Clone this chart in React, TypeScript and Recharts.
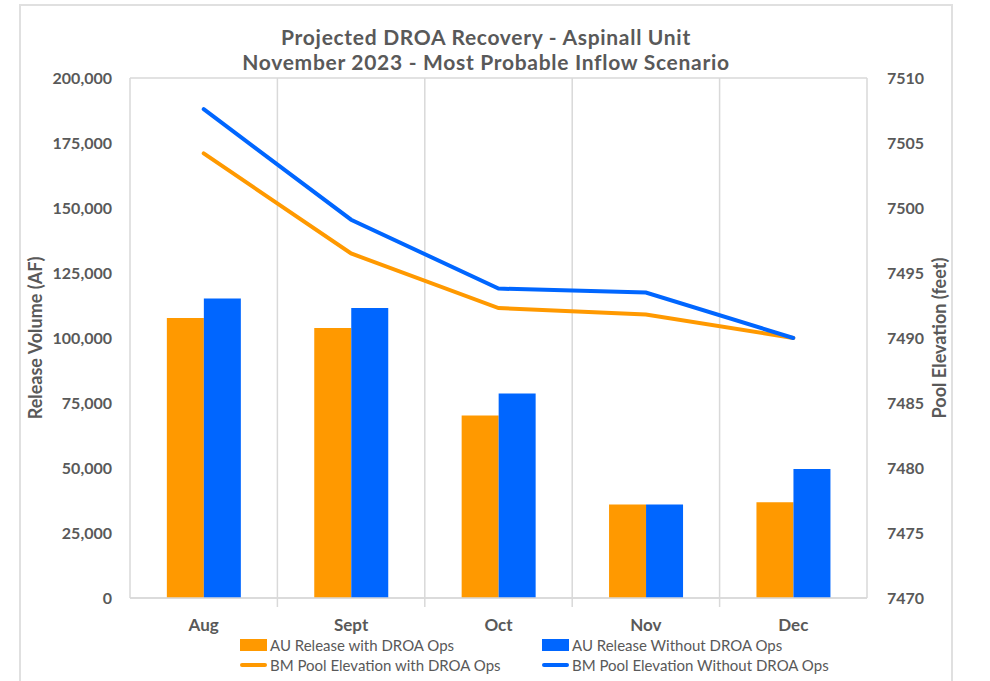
import { ComposedChart, Bar, Line, XAxis, YAxis, CartesianGrid } from 'recharts'

const months = ['Aug', 'Sept', 'Oct', 'Nov', 'Dec']
const releaseWithDroa = [107700, 103800, 70200, 36000, 36800]
const releaseWithoutDroa = [115200, 111500, 78700, 36000, 49600]
const elevWithDroa = [7504.2, 7496.5, 7492.3, 7491.8, 7490.0]
const elevWithoutDroa = [7507.6, 7499.1, 7493.8, 7493.5, 7490.0]
const leftTicks = [0, 25000, 50000, 75000, 100000, 125000, 150000, 175000, 200000]
const rightTicks = [7470, 7475, 7480, 7485, 7490, 7495, 7500, 7505, 7510]

const data = months.map((m, i) => ({
  month: m,
  auWith: releaseWithDroa[i],
  auWithout: releaseWithoutDroa[i],
  bmWith: elevWithDroa[i],
  bmWithout: elevWithoutDroa[i],
}))

const ORANGE = '#FF9900'
const BLUE = '#0066FF'
const GREY = '#595959'
const GRID = '#d9d9d9'
const FONT = 'Lato, "Open Sans", sans-serif'

const legendItems = [
  { label: 'AU Release with DROA Ops', color: ORANGE, kind: 'bar' },
  { label: 'AU Release Without DROA Ops', color: BLUE, kind: 'bar' },
  { label: 'BM Pool Elevation with DROA Ops', color: ORANGE, kind: 'line' },
  { label: 'BM Pool Elevation Without DROA Ops', color: BLUE, kind: 'line' },
]

function ChartLegend() {
  return (
    <div style={{ position: 'absolute', left: 240, top: 635, display: 'grid', gridTemplateColumns: '302px 320px', rowGap: 1, fontFamily: FONT, fontSize: 15, color: GREY }}>
      {legendItems.map((it) => (
        <div key={it.label} style={{ display: 'flex', alignItems: 'center', height: 19 }}>
          <span style={{
            display: 'inline-block', width: 27, marginRight: 3,
            height: it.kind === 'bar' ? 12 : 4, background: it.color,
            borderRadius: it.kind === 'line' ? 2 : 0,
          }} />
          {it.label}
        </div>
      ))}
    </div>
  )
}

function MonthTick(props: any) {
  const { x, y, payload, index } = props
  const half = 737 / 10
  return (
    <g>
      {index < months.length - 1 && (
        <line x1={x + half} x2={x + half} y1={y - 8} y2={y + 1} stroke={GRID} strokeWidth={1.5} />
      )}
      <text x={x} y={y + 25} textAnchor="middle" fill={GREY} fontSize={17} fontWeight={700} fontFamily={FONT}>
        {payload.value}
      </text>
    </g>
  )
}

export default function App() {
  return (
    <div style={{ position: 'absolute', left: 0, top: 0, width: 990, height: 681, background: '#fff', overflow: 'hidden' }}>
      <div style={{ position: 'absolute', left: 19, top: 4, width: 930, height: 690, border: '2px solid #e0e0e0', borderBottom: 'none' }} />
      <div style={{ position: 'absolute', left: 0, top: 24, width: 972, textAlign: 'center', fontFamily: FONT, fontSize: 21, fontWeight: 700, letterSpacing: 0.7, color: GREY, lineHeight: '25px' }}>
        <div>Projected DROA Recovery - Aspinall Unit</div>
        <div>November 2023 - Most Probable Inflow Scenario</div>
      </div>
      <ComposedChart
        width={990}
        height={681}
        data={data}
        margin={{ top: 78, right: 0, bottom: 53, left: 0 }}
        barCategoryGap="25%"
        barGap={0}
        style={{ position: 'absolute', left: 0, top: 0 }}
      >
        <CartesianGrid
          stroke={GRID}
          strokeWidth={1.5}
          verticalCoordinatesGenerator={({ offset }: any) =>
            months.map((_, i) => offset.left + (i * offset.width) / months.length).concat(offset.left + offset.width)
          }
        />
        <XAxis dataKey="month" height={30} axisLine={{ stroke: GRID, strokeWidth: 1.5 }} tickLine={false} tick={<MonthTick />} interval={0} />
        <YAxis
          yAxisId="left"
          width={130}
          domain={[0, 200000]}
          ticks={leftTicks}
          axisLine={false}
          tickLine={false}
          tickMargin={12}
          tickFormatter={(v: number) => v.toLocaleString('en-US')}
          tick={{ fill: GREY, fontSize: 16, fontWeight: 700, fontFamily: FONT }}
          label={({ viewBox }: any) => (
            <text
              x={35}
              y={viewBox.y + viewBox.height / 2}
              transform={`rotate(-90, 35, ${viewBox.y + viewBox.height / 2})`}
              textAnchor="middle"
              dominantBaseline="central"
              fill={GREY}
              fontSize={18}
              fontWeight={700}
              fontFamily={FONT}
            >
              Release Volume (AF)
            </text>
          )}
        />
        <YAxis
          yAxisId="right"
          orientation="right"
          width={123}
          domain={[7470, 7510]}
          ticks={rightTicks}
          axisLine={false}
          tickLine={false}
          tickMargin={14}
          tick={{ fill: GREY, fontSize: 16, fontWeight: 700, fontFamily: FONT, textAnchor: 'start' }}
          label={({ viewBox }: any) => (
            <text
              x={939}
              y={viewBox.y + viewBox.height / 2}
              transform={`rotate(-90, 939, ${viewBox.y + viewBox.height / 2})`}
              textAnchor="middle"
              dominantBaseline="central"
              fill={GREY}
              fontSize={18}
              fontWeight={700}
              fontFamily={FONT}
            >
              Pool Elevation (feet)
            </text>
          )}
        />
        <Bar yAxisId="left" dataKey="auWith" name="AU Release with DROA Ops" fill={ORANGE} isAnimationActive={false} />
        <Bar yAxisId="left" dataKey="auWithout" name="AU Release Without DROA Ops" fill={BLUE} isAnimationActive={false} />
        <Line yAxisId="right" dataKey="bmWith" name="BM Pool Elevation with DROA Ops" stroke={ORANGE} strokeWidth={4} dot={false} strokeLinecap="round" isAnimationActive={false} />
        <Line yAxisId="right" dataKey="bmWithout" name="BM Pool Elevation Without DROA Ops" stroke={BLUE} strokeWidth={4} dot={false} strokeLinecap="round" isAnimationActive={false} />
      </ComposedChart>
      <ChartLegend />
    </div>
  )
}
